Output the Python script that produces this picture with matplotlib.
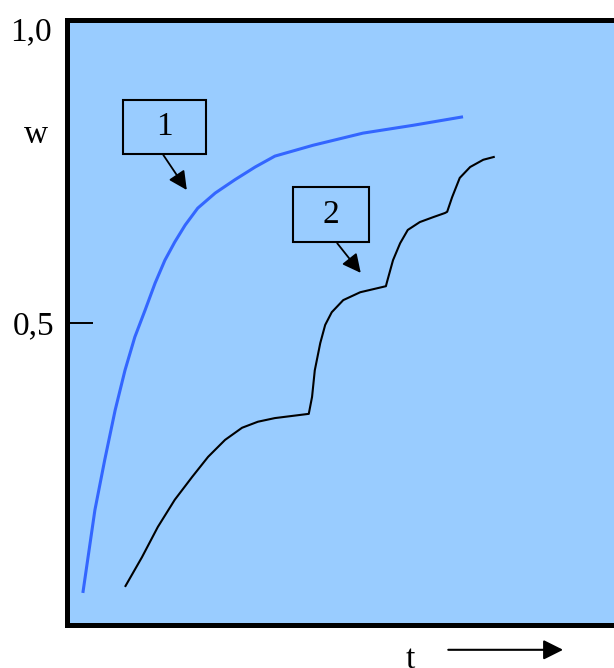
import numpy as np
import matplotlib.pyplot as plt
from matplotlib.patches import Rectangle

# curve 1: fast uptake, curve 2: stepwise uptake (t and w normalised to the frame)
t1 = [0.029, 0.051, 0.069, 0.088, 0.106, 0.124, 0.143, 0.161, 0.179, 0.197,
      0.216, 0.239, 0.271, 0.307, 0.344, 0.380, 0.450, 0.541, 0.633, 0.724]
w1 = [0.053, 0.190, 0.273, 0.355, 0.421, 0.476, 0.521, 0.565, 0.603, 0.633,
      0.661, 0.689, 0.714, 0.736, 0.757, 0.775, 0.793, 0.813, 0.826, 0.840]

t2 = [0.106, 0.137, 0.166, 0.197, 0.229, 0.258, 0.289, 0.320, 0.349, 0.380,
      0.442, 0.448, 0.453, 0.463, 0.472, 0.484, 0.505, 0.536, 0.583, 0.585,
      0.596, 0.609, 0.623, 0.645, 0.669, 0.691, 0.695, 0.704, 0.718, 0.737,
      0.761, 0.782]
w2 = [0.063, 0.112, 0.162, 0.207, 0.245, 0.278, 0.306, 0.326, 0.336, 0.342,
      0.349, 0.377, 0.421, 0.466, 0.496, 0.517, 0.537, 0.550, 0.560, 0.567,
      0.603, 0.631, 0.653, 0.666, 0.674, 0.681, 0.683, 0.707, 0.739, 0.757,
      0.769, 0.774]

ytick_vals = [0.5]
ytick_labels = ['0,5']
curve_labels = ['1', '2']

bg = '#99ccff'
serif = 'Liberation Serif'
fs = 24

fig = plt.figure(figsize=[6.14, 6.68], dpi=100)
ax = fig.add_axes([67/614, 43/668, 547/614, 605/668])
ax.set_facecolor(bg)
ax.set_xlim(0, 1)
ax.set_ylim(0, 1)

ax.plot(t1, w1, color='#3366ff', lw=2.2, solid_capstyle='butt')
ax.plot(t2, w2, color='k', lw=1.5, solid_capstyle='butt')

# frame: thick left/top/bottom, open on the right
for side in ['left', 'top', 'bottom']:
    ax.spines[side].set_linewidth(3.6)
ax.spines['right'].set_visible(False)

ax.set_xticks([])
ax.set_yticks(ytick_vals)
ax.set_yticklabels(ytick_labels, fontsize=fs, family=serif)
ax.tick_params(axis='y', direction='in', length=19, width=1.4, pad=9)

ax.text(-0.028, 0.98, '1,0', fontsize=fs, family=serif,
        ha='right', va='center', clip_on=False)
ax.text(-0.035, 0.81, 'w', fontsize=fs, family=serif,
        ha='right', va='center', clip_on=False)
ax.text(0.627, -0.057, 't', fontsize=fs, family=serif,
        ha='center', va='center', clip_on=False)
ax.annotate('', xy=(0.907, -0.041), xytext=(0.697, -0.041),
            xycoords='data', annotation_clip=False,
            arrowprops=dict(arrowstyle='-|>', color='k', lw=1.5,
                            mutation_scale=30, shrinkA=0, shrinkB=0))

# numbered callout boxes with arrows pointing to each curve
boxes = [(0.102, 0.779, 0.152, 0.089), (0.413, 0.633, 0.139, 0.091)]
arrows = [((0.176, 0.777), (0.219, 0.719)), ((0.494, 0.631), (0.537, 0.582))]
for lab, (bx, by, bw, bh), (a0, a1) in zip(curve_labels, boxes, arrows):
    ax.add_patch(Rectangle((bx, by), bw, bh, facecolor='none',
                           edgecolor='k', lw=1.5))
    ax.text(bx + bw/2, by + bh/2, lab, fontsize=fs, family=serif,
            ha='center', va='center')
    ax.annotate('', xy=a1, xytext=a0,
                arrowprops=dict(arrowstyle='-|>', color='k', lw=1.3,
                                mutation_scale=28, shrinkA=0, shrinkB=0))

fig.savefig('out.png', dpi=100, facecolor='white')
